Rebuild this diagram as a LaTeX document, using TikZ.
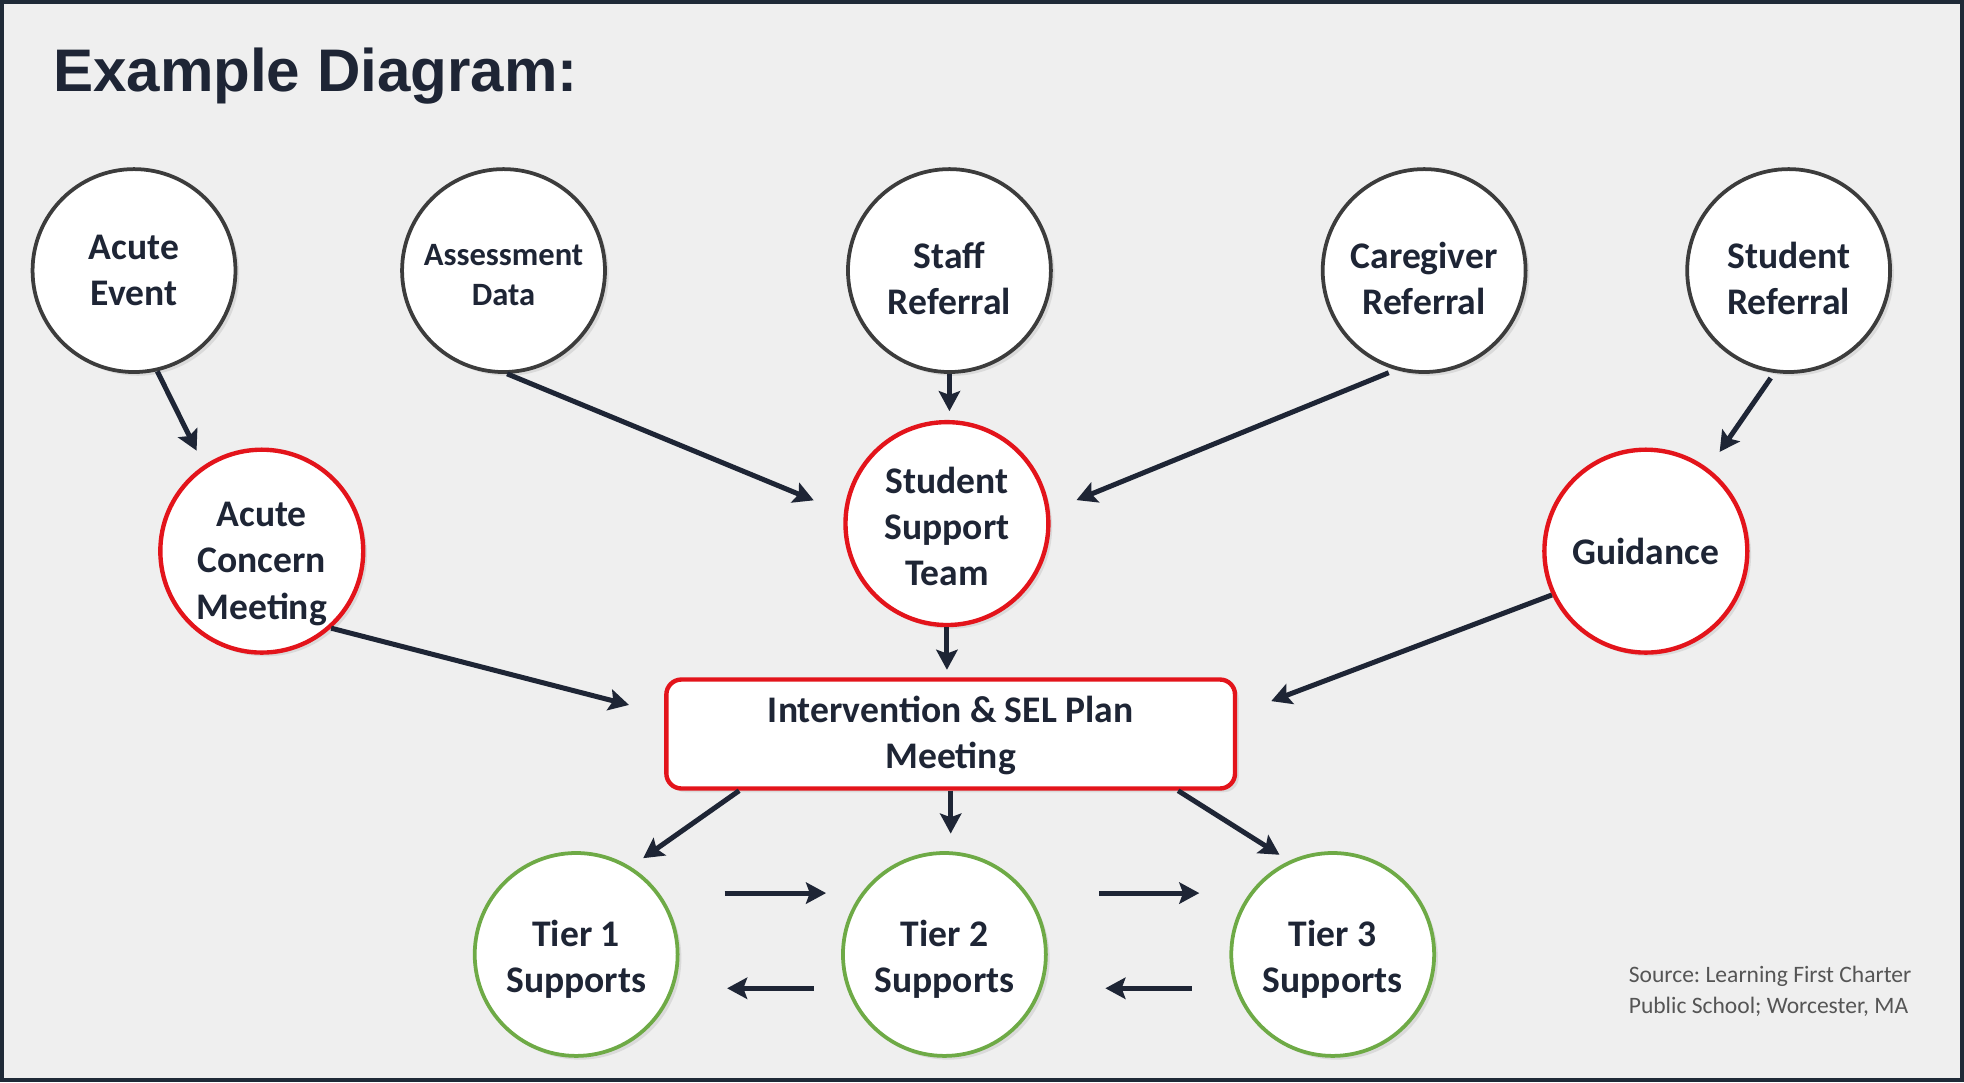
\documentclass[tikz,border=0pt]{standalone}
\usepackage{fontspec}
\setmainfont{Carlito}
\newfontfamily\titlefont{Liberation Sans}
\usetikzlibrary{arrows.meta,shadows,calc}
\frenchspacing
\definecolor{bg}{HTML}{EFEFEF}
\definecolor{framec}{HTML}{1F2A37}
\definecolor{ink}{HTML}{1E2535}
\definecolor{cred}{HTML}{E3141B}
\definecolor{cgreen}{HTML}{6EAA46}
\definecolor{cgray}{HTML}{3C3C3C}
\definecolor{srcgray}{HTML}{555555}
\newcommand\mvtext[2]{\raisebox{#1}[\height][\depth]{\begin{tabular}{@{}c@{}}#2\end{tabular}}}
\tikzset{
  bubble/.style={circle, minimum size=81pt, inner sep=0pt, fill=white, line width=1.5pt,
    align=center, font=\bfseries\fontsize{15}{18.3}\selectfont, text=ink,
    drop shadow={shadow xshift=1.5pt, shadow yshift=-1.5pt, opacity=0.18}},
  srcnode/.style={bubble, draw=cgray},
  rednode/.style={bubble, draw=cred, line width=1.75pt},
  greennode/.style={bubble, draw=cgreen},
  planbox/.style={rectangle, rounded corners=6pt, draw=cred, line width=1.75pt, fill=white,
    minimum width=227pt, minimum height=43.5pt, inner sep=0pt, align=center,
    font=\bfseries\fontsize{15}{18}\selectfont, text=ink,
    drop shadow={shadow xshift=1.5pt, shadow yshift=-1.5pt, opacity=0.18}},
  arr/.style={draw=ink, line width=2pt, -{Stealth[length=8pt,width=8.5pt,inset=1.5pt]}},
}
\begin{document}
\begin{tikzpicture}[x=0.5pt,y=-0.5pt]
\useasboundingbox (0,0) rectangle (1568,864);
\fill[bg] (0,0) rectangle (1568,864);
\draw[framec, line width=1.5pt] (1.5,1.5) rectangle (1566.5,862.5);

\node[anchor=base west, inner sep=0pt, text=ink,
      font=\titlefont\bfseries\fontsize{24}{28}\selectfont] (title) at (42,73) {Example Diagram:};

% top row
\node[srcnode] (ae) at (107,216) {\mvtext{-1pt}{Acute\\Event}};
\node[srcnode, font=\bfseries\fontsize{13}{16}\selectfont] (as) at (402,216) {\mvtext{-2.75pt}{Assessment\\Data}};
\node[srcnode] (sr) at (758,216) {\mvtext{-4.75pt}{Staff\\Referral}};
\node[srcnode] (cr) at (1137,216) {\mvtext{-4.75pt}{Caregiver\\Referral}};
\node[srcnode] (st) at (1428,216) {\mvtext{-4.75pt}{Student\\Referral}};

% middle row
\node[rednode] (acm) at (209,440) {\fontsize{15}{18.6}\selectfont\mvtext{-5pt}{Acute\\Concern\\Meeting}};
\node[rednode] (sst) at (756,418) {\mvtext{-2.7pt}{Student\\Support\\Team}};
\node[rednode] (gd) at (1314,440) {Guidance};

\node[planbox] (box) at (759,586) {\mvtext{-1pt}{Intervention \& SEL Plan\\Meeting}};

% tiers
\node[greennode] (t1) at (460,762) {\mvtext{-2.5pt}{Tier 1\\Supports}};
\node[greennode] (t2) at (754,762) {\mvtext{-2.5pt}{Tier 2\\Supports}};
\node[greennode] (t3) at (1064,762) {\mvtext{-2.5pt}{Tier 3\\Supports}};

\node[anchor=base west, align=left, inner sep=0pt, text=srcgray,
      font=\fontsize{9.4}{12.5}\selectfont] (src) at (1300,809)
      {Source: Learning First Charter\\Public School; Worcester, MA};

% connectors
\draw[arr, shorten >=6.5pt] (ae.-77) -- (acm.124);
\draw[arr, shorten >=13pt] (as.-88) -- (sst.174);
\draw[arr, shorten >=3.5pt] (sr.south) -- (sr.south |- sst.north);
\draw[arr, shorten <=3pt, shorten >=11.5pt] (cr.-106) -- (sst.7);
\draw[arr, shorten <=2.5pt, shorten >=8pt] (st.-98) -- (gd.53);
\draw[arr, shorten >=14.5pt] (acm.-48) -- (box.176);
\draw[arr, shorten >=3pt] (sst.south) -- (sst.south |- box.north);
\draw[arr, shorten >=14.5pt] (gd.-155) -- (box.4);
\draw[arr, shorten >=6pt] (box.-165) -- (t1.58);
\draw[arr, shorten >=7pt] (box.south) -- (box.south |- t2.north);
\draw[arr, shorten >=4.5pt] (box.-14) -- (t3.115);

\draw[arr] ([xshift=18pt,yshift=24.5pt]t1.east) -- ([xshift=-6pt,yshift=24.5pt]t2.west);
\draw[arr] ([xshift=-11pt,yshift=-13.5pt]t2.west) -- ([xshift=19pt,yshift=-13.5pt]t1.east);
\draw[arr] ([xshift=20.5pt,yshift=24.5pt]t2.east) -- ([xshift=-12pt,yshift=24.5pt]t3.west);
\draw[arr] ([xshift=-15pt,yshift=-13.5pt]t3.west) -- ([xshift=23pt,yshift=-13.5pt]t2.east);
\end{tikzpicture}
\end{document}
